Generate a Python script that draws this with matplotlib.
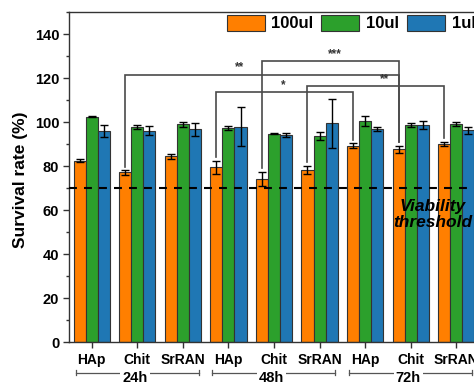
import matplotlib
matplotlib.use("Agg")
import matplotlib.pyplot as plt
from matplotlib.transforms import blended_transform_factory
from matplotlib.ticker import MultipleLocator
import numpy as np

plt.rcParams['font.family'] = ['Liberation Sans', 'DejaVu Sans']
plt.rcParams['font.weight'] = 'bold'

# ---- data ----
materials = ["HAp", "Chit", "SrRAN", "HAp", "Chit", "SrRAN", "HAp", "Chit", "SrRAN"]
times = ["24h", "48h", "72h"]
series_names = ["100ul", "10ul", "1ul"]

v100 = [82.4, 77.1, 84.4, 79.4, 74.1, 78.3, 89.2, 87.6, 90.0]
e100 = [0.8, 1.0, 1.0, 3.0, 3.3, 1.8, 1.1, 1.6, 1.0]
v10 = [102.3, 97.7, 99.0, 97.4, 94.7, 93.5, 100.6, 98.5, 99.1]
e10 = [0.2, 1.0, 1.2, 1.0, 0.2, 1.8, 2.3, 1.0, 1.0]
v1 = [96.0, 96.0, 96.7, 97.9, 94.1, 99.4, 96.8, 98.6, 96.2]
e1 = [2.7, 2.0, 3.0, 8.9, 1.0, 11.2, 1.0, 1.7, 1.5]

threshold = 70

# significance brackets between 100ul bars: (left index, right index, bracket height, label, label x)
sig_left = [1, 4, 3, 5]
sig_right = [7, 7, 6, 8]
sig_height = [121.5, 127.6, 113.5, 116.4]
sig_label = ["**", "***", "*", "**"]
sig_label_x = [3.25, 5.33, 4.21, 6.43]

colors = ["#FF7F00", "#2CA02C", "#1F77B4"]
edge = "#333333"

fig = plt.figure(figsize=(4.74, 3.85), dpi=100)
ax = fig.add_axes([69 / 474, 43 / 385, 410 / 474, 330 / 385])

x = np.arange(len(materials))
w = 0.265
values = [v100, v10, v1]
errors = [e100, e10, e1]
for i, (vals, errs, c, name) in enumerate(zip(values, errors, colors, series_names)):
    xs = x + (i - 1) * w
    ax.bar(xs, vals, width=w, color=c, edgecolor=edge, linewidth=0.8, label=name, zorder=2)
    ax.errorbar(xs, vals, yerr=errs, fmt='none', ecolor='black', elinewidth=1.0,
                capsize=3, capthick=1.0, zorder=3)

# viability threshold
ax.axhline(threshold, color='black', lw=1.5, dashes=(3.8, 3.4), zorder=4)
ax.text(7.48, 58.0, "Viability\nthreshold", ha='center', va='center', fontsize=12.5,
        style='italic', fontweight='bold', linespacing=1.05, zorder=5)

# significance brackets
for l, r, h, lab, lx in zip(sig_left, sig_right, sig_height, sig_label, sig_label_x):
    xl = x[l] - w
    xr = x[r] - w
    yl = v100[l] + e100[l] + 1.5
    yr = v100[r] + e100[r] + 1.5
    ax.plot([xl, xl, xr, xr], [yl, h, h, yr], color='#4a4a4a', lw=1.2, zorder=4,
            solid_joinstyle='miter')
    ax.text(lx, h + 0.5, lab, ha='center', va='bottom', fontsize=8.5, color='#333333',
            fontweight='bold', zorder=5)

# axes styling
ax.set_xlim(-0.5, len(materials) - 0.5)
ax.set_ylim(0, 150)
ax.set_xticks(x)
ax.set_xticklabels(materials, fontsize=10, fontweight='bold')
ax.yaxis.set_major_locator(MultipleLocator(20))
ax.yaxis.set_minor_locator(MultipleLocator(10))
ax.set_yticks(np.arange(0, 141, 20))
for lbl in ax.get_yticklabels():
    lbl.set_fontsize(10.5)
    lbl.set_fontweight('bold')
ax.tick_params(axis='both', which='major', direction='out', length=4, width=1, color='#333333', pad=3)
ax.tick_params(axis='y', which='minor', direction='out', length=2.5, width=1, color='#333333')
ax.tick_params(axis='x', which='major', length=4, pad=4)
for sp in ax.spines.values():
    sp.set_color('#333333')
    sp.set_linewidth(1.0)

fig.text(21 / 474, (385 - 180) / 385, "Survival rate (%)", rotation=90, ha='center',
         va='center', fontsize=12.5, fontweight='bold')

# time group labels under the material labels
trans = blended_transform_factory(ax.transData, ax.transAxes)
y_line = -0.093
for g, t in enumerate(times):
    c = x[3 * g + 1]
    ax.plot([c - 1.35, c + 1.35], [y_line, y_line], transform=trans, color='#555555',
            lw=0.9, clip_on=False)
    for end in (c - 1.35, c + 1.35):
        ax.plot([end, end], [y_line - 0.008, y_line + 0.008], transform=trans,
                color='#555555', lw=0.9, clip_on=False)
    ax.text(c - 0.05, y_line - 0.016, t, transform=trans, ha='center', va='center',
            fontsize=10.5, fontweight='bold', clip_on=False,
            bbox=dict(facecolor='white', edgecolor='none', pad=1.5))

# legend
leg = fig.legend(loc='upper left', bbox_to_anchor=(226.5 / 474, (385 - 14.5) / 385), ncol=3,
                 frameon=False, fontsize=12, handlelength=2.3, handleheight=1.15,
                 handletextpad=0.4, columnspacing=0.45, borderpad=0, borderaxespad=0)
for txt in leg.get_texts():
    txt.set_fontweight('bold')

fig.savefig("out.png", dpi=100)
